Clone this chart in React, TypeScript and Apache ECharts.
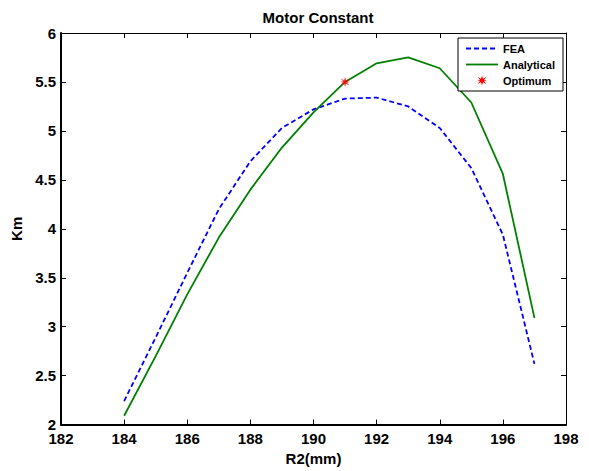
import React, { useEffect, useRef } from "react";
import * as echarts from "echarts";

const r2 = [184, 185, 186, 187, 188, 189, 190, 191, 192, 193, 194, 195, 196, 197];
const fea = [2.24, 2.89, 3.55, 4.2, 4.69, 5.03, 5.22, 5.33, 5.34, 5.25, 5.03, 4.62, 3.94, 2.62];
const analytical = [2.09, 2.7, 3.33, 3.91, 4.4, 4.83, 5.19, 5.5, 5.69, 5.75, 5.64, 5.29, 4.56, 3.09];
const optimum: [number, number] = [191, 5.5];
const legendNames = ["FEA", "Analytical", "Optimum"];

const FONT = "'Liberation Sans', Arial, sans-serif";
const STAR_D =
  "M5,0 L6,3.3 L9.3,1.5 L7,4.4 L10,5 L7,5.6 L9.3,8.5 L6,6.7 L5,10 L4,6.7 L0.7,8.5 L3,5.6 L0,5 L3,4.4 L0.7,1.5 L4,3.3 Z";

let registered = false;

export default function App() {
  const ref = useRef<HTMLDivElement>(null);
  useEffect(() => {
    document.body.style.margin = "0";
    if (!registered) {
      echarts.graphic.registerShape("optstar", echarts.graphic.extendPath(STAR_D, {}));
      registered = true;
    }
    const chart = echarts.init(ref.current!, undefined, { renderer: "svg" });
    const tick = { show: true, inside: true, length: 5, lineStyle: { color: "#000", width: 1 } };
    const labelStyle = { fontFamily: FONT, fontWeight: "bold" as const, fontSize: 15, color: "#000" };

    const lx = 458, ly = 38, lw = 105, lh = 53;
    const rowY = [48.5, 64.5, 80.5];
    const legendGraphic: any[] = [
      {
        type: "rect",
        shape: { x: lx, y: ly, width: lw, height: lh },
        style: { fill: "#fff", stroke: "#000", lineWidth: 1 },
        z: 100,
      },
      {
        type: "line",
        shape: { x1: 466, y1: rowY[0], x2: 498, y2: rowY[0] },
        style: { stroke: "#0000ff", lineWidth: 1.8, lineDash: [5, 3] },
        z: 101,
      },
      {
        type: "line",
        shape: { x1: 466, y1: rowY[1], x2: 498, y2: rowY[1] },
        style: { stroke: "#008000", lineWidth: 1.8 },
        z: 101,
      },
      {
        type: "optstar",
        x: 482 - 5,
        y: rowY[2] - 5,
        scaleX: 1,
        scaleY: 1,
        style: { fill: "#ff0000" },
        z: 101,
      },
      ...legendNames.map((n, i) => ({
        type: "text",
        x: 503,
        y: rowY[i],
        style: {
          text: n,
          fontFamily: FONT,
          fontWeight: "bold",
          fontSize: 11,
          fill: "#000",
          verticalAlign: "middle",
          align: "left",
        },
        z: 101,
      })),
    ];

    chart.setOption({
      animation: false,
      backgroundColor: "#fff",
      textStyle: { fontFamily: FONT },
      title: {
        text: "Motor Constant",
        left: 313,
        top: 5,
        textAlign: "center",
        textStyle: { ...labelStyle },
      },
      grid: { left: 61, right: 23, top: 33, bottom: 39, containLabel: false },
      graphic: legendGraphic,
      xAxis: [
        {
          type: "value",
          min: 182,
          max: 198,
          interval: 2,
          position: "bottom",
          name: "R2(mm)",
          nameLocation: "middle",
          nameGap: 22,
          nameTextStyle: { ...labelStyle },
          axisLine: { show: true, lineStyle: { color: "#000", width: 2 } },
          axisTick: tick,
          splitLine: { show: false },
          axisLabel: { ...labelStyle, margin: 7, lineHeight: 14 },
        },
        {
          type: "value",
          min: 182,
          max: 198,
          interval: 2,
          position: "top",
          axisLine: { show: true, lineStyle: { color: "#000", width: 1 } },
          axisTick: tick,
          splitLine: { show: false },
          axisLabel: { show: false },
        },
      ],
      yAxis: [
        {
          type: "value",
          min: 2,
          max: 6,
          interval: 0.5,
          position: "left",
          name: "Km",
          nameLocation: "middle",
          nameGap: 32,
          nameTextStyle: { ...labelStyle },
          axisLine: { show: true, lineStyle: { color: "#000", width: 2 } },
          axisTick: tick,
          splitLine: { show: false },
          axisLabel: { ...labelStyle, margin: 5, lineHeight: 8 },
        },
        {
          type: "value",
          min: 2,
          max: 6,
          interval: 0.5,
          position: "right",
          axisLine: { show: true, lineStyle: { color: "#000", width: 1 } },
          axisTick: tick,
          splitLine: { show: false },
          axisLabel: { show: false },
        },
      ],
      series: [
        {
          name: "FEA",
          type: "line",
          xAxisIndex: 0,
          yAxisIndex: 0,
          symbol: "none",
          showSymbol: false,
          data: r2.map((x, i) => [x, fea[i]]),
          lineStyle: { color: "#0000ff", width: 1.8, type: [5, 3] },
          itemStyle: { color: "#0000ff" },
        },
        {
          name: "Analytical",
          type: "line",
          xAxisIndex: 0,
          yAxisIndex: 0,
          symbol: "none",
          showSymbol: false,
          data: r2.map((x, i) => [x, analytical[i]]),
          lineStyle: { color: "#008000", width: 1.8 },
          itemStyle: { color: "#008000" },
        },
        {
          name: "Optimum",
          type: "scatter",
          xAxisIndex: 0,
          yAxisIndex: 0,
          symbol: "path://" + STAR_D,
          symbolSize: 10,
          data: [optimum],
          itemStyle: { color: "#ff0000" },
          z: 5,
        },
      ],
    });
    return () => chart.dispose();
  }, []);
  return <div ref={ref} style={{ width: 589, height: 471 }} />;
}
